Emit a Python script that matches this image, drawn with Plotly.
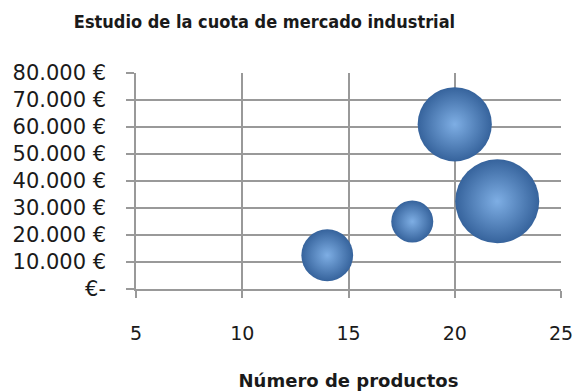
import plotly.graph_objects as go

# Data
productos = [14, 18, 20, 22]
ventas = [12500, 25000, 61000, 32500]
cuota = [38, 25, 78, 100]

y_tickvals = [0, 10000, 20000, 30000, 40000, 50000, 60000, 70000, 80000]
y_ticktext = ["€-", "10.000 €", "20.000 €", "30.000 €", "40.000 €",
              "50.000 €", "60.000 €", "70.000 €", "80.000 €"]
x_tickvals = [5, 10, 15, 20, 25]

title_text = "Estudio de la cuota de mercado industrial"
x_title = "Número de productos"

max_diam = 84
sizeref = 2.0 * max(cuota) / (max_diam ** 2)

fig = go.Figure()
fig.add_trace(go.Scatter(
    x=productos, y=ventas, mode="markers",
    marker=dict(
        size=cuota, sizemode="area", sizeref=sizeref,
        color="#36639c",
        gradient=dict(type="radial", color="#7eaee4"),
        line=dict(width=0),
        opacity=1,
    ),
    cliponaxis=False,
    showlegend=False,
    hoverinfo="skip",
))

grid_col = "#999999"
fig.update_layout(
    width=575, height=391,
    margin=dict(l=136, r=14, t=73, b=102, autoexpand=False),
    paper_bgcolor="white", plot_bgcolor="white",
    title=dict(text="<b>" + title_text + "</b>", x=0.46, xanchor="center", y=0.944, yanchor="middle",
               font=dict(family="DejaVu Sans Condensed, Liberation Sans", size=18, color="#1a1a1a")),
    xaxis=dict(
        range=[5, 25], tickvals=x_tickvals, ticks="outside", ticklen=7, tickwidth=1.5,
        tickcolor=grid_col, showgrid=True, gridcolor=grid_col, gridwidth=1.5,
        showline=True, linecolor=grid_col, linewidth=1.5, zeroline=False,
        tickfont=dict(family="DejaVu Sans", size=19, color="#1a1a1a"),
        ticklabelstandoff=19, automargin=False,
        title=dict(text="<b>" + x_title + "</b>", standoff=38,
                   font=dict(family="DejaVu Sans", size=18, color="#1a1a1a")),
    ),
    yaxis=dict(
        range=[0, 80000], tickvals=y_tickvals, ticktext=y_ticktext, ticks="outside",
        ticklen=8, tickwidth=1.5, tickcolor=grid_col, showgrid=True, gridcolor=grid_col,
        gridwidth=1.5, showline=True, linecolor=grid_col, linewidth=1.5, zeroline=False,
        tickfont=dict(family="DejaVu Sans", size=21, color="#1a1a1a"),
        ticklabelstandoff=16, automargin=False,
    ),
)

fig.write_html(
    "out.html",
    config={"displayModeBar": False},
    post_script="document.body.style.margin='0';document.documentElement.style.overflow='hidden';",
)
